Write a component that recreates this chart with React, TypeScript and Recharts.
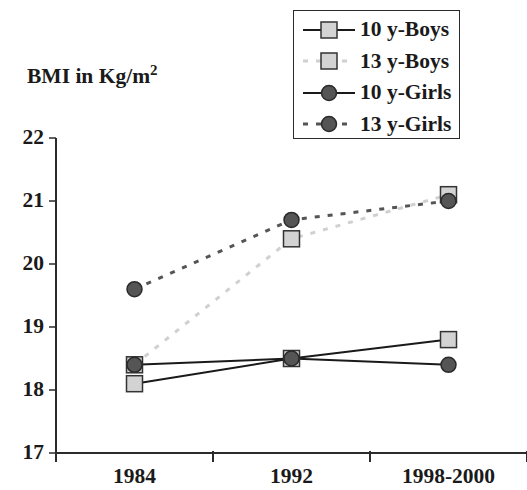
import React from 'react'
import { LineChart, Line, XAxis, YAxis, Legend, Label } from 'recharts'

const categories = ['1984', '1992', '1998-2000']
const boys10 = [18.1, 18.5, 18.8]
const boys13 = [18.4, 20.4, 21.1]
const girls10 = [18.4, 18.5, 18.4]
const girls13 = [19.6, 20.7, 21.0]
const yTicks = [17, 18, 19, 20, 21, 22]

const FONT = '"Liberation Serif", "Times New Roman", serif'
const FS = 21.5
const AXIS = '#2b2b2b'

// x is numeric so tick marks can sit between the categories
const data = categories.map((c, i) => ({
  x: i + 0.5,
  name: c,
  boys10: boys10[i],
  boys13: boys13[i],
  girls10: girls10[i],
  girls13: girls13[i],
}))

const xTicks = [0, 0.5, 1, 1.5, 2, 2.5, 3]

const series = [
  { key: 'boys10', name: '10 y-Boys', stroke: '#1a1a1a', dash: undefined, width: 2, shape: 'square', fill: '#d3d3d3' },
  { key: 'boys13', name: '13 y-Boys', stroke: '#d0d0d0', dash: '5 8', width: 3, shape: 'square', fill: '#d3d3d3' },
  { key: 'girls10', name: '10 y-Girls', stroke: '#1a1a1a', dash: undefined, width: 2, shape: 'circle', fill: '#555555' },
  { key: 'girls13', name: '13 y-Girls', stroke: '#555555', dash: '5 8', width: 3, shape: 'circle', fill: '#555555' },
]

const Marker = ({ cx, cy, shape, fill }: any) => {
  if (cx == null || cy == null) return null
  if (shape === 'square') {
    return <rect x={cx - 8} y={cy - 8} width={16} height={16} fill={fill} stroke="#333" strokeWidth={1.5} />
  }
  return <circle cx={cx} cy={cy} r={7.5} fill={fill} stroke="#2a2a2a" strokeWidth={1.5} />
}

const XTick = ({ x, y, payload }: any) => {
  const v = payload.value
  if (Number.isInteger(v)) {
    return <line x1={x} x2={x} y1={y - 2} y2={y + 9} stroke={AXIS} strokeWidth={2} />
  }
  const label = categories[Math.floor(v)]
  return (
    <text x={x} y={y + 30} textAnchor="middle" fontFamily={FONT} fontWeight="bold" fontSize={FS} fill="#1a1a1a">
      {label}
    </text>
  )
}

const LegendBox = () => (
  <div style={{ border: `1.5px solid ${AXIS}`, width: 167, height: 129, boxSizing: 'border-box', paddingTop: 3, background: '#fff' }}>
    {series.map((s) => (
      <div key={s.key} style={{ display: 'flex', alignItems: 'center', height: 31.5 }}>
        <svg width={62} height={20} style={{ marginLeft: 3 }}>
          <line x1={6} x2={58} y1={10} y2={10} stroke={s.stroke} strokeWidth={s.width} strokeDasharray={s.dash} />
          <Marker cx={32} cy={10} shape={s.shape} fill={s.fill} />
        </svg>
        <span style={{ fontFamily: FONT, fontWeight: 'bold', fontSize: FS, color: '#1a1a1a', marginLeft: 1 }}>{s.name}</span>
      </div>
    ))}
  </div>
)

export default function App() {
  return (
    <div style={{ position: 'absolute', left: 0, top: 0, background: '#fff' }}>
      <LineChart width={527} height={490} data={data} margin={{ top: 138, right: 0, bottom: 0, left: 0 }}>
        <XAxis
          dataKey="x"
          type="number"
          domain={[0, 3]}
          ticks={xTicks}
          interval={0}
          height={37}
          tick={<XTick />}
          tickLine={false}
          tickSize={0}
          tickMargin={0}
          axisLine={{ stroke: AXIS, strokeWidth: 2 }}
        />
        <YAxis
          domain={[17, 22]}
          ticks={yTicks}
          width={56}
          tickSize={7}
          tickMargin={5}
          tickLine={{ stroke: AXIS, strokeWidth: 1.5 }}
          axisLine={{ stroke: AXIS, strokeWidth: 2 }}
          tick={{ fontFamily: FONT, fontWeight: 'bold', fontSize: FS, fill: '#1a1a1a', dy: -2 }}
        >
          <Label
            content={() => (
              <text x={27} y={83} fontFamily={FONT} fontWeight="bold" fontSize={FS} fill="#1a1a1a">
                BMI in Kg/m<tspan dy={-8} fontSize={15}>2</tspan>
              </text>
            )}
          />
        </YAxis>
        <Legend
          layout="horizontal"
          verticalAlign="middle"
          align="center"
          content={<LegendBox />}
          wrapperStyle={{ position: 'absolute', left: 293, top: 10, width: 'auto' }}
        />
        {series.map((s) => (
          <Line
            key={s.key}
            dataKey={s.key}
            name={s.name}
            type="linear"
            stroke={s.stroke}
            strokeWidth={s.width}
            strokeDasharray={s.dash}
            dot={(p: any) => <Marker key={`${s.key}-${p.index}`} cx={p.cx} cy={p.cy} shape={s.shape} fill={s.fill} />}
            activeDot={false}
            isAnimationActive={false}
          />
        ))}
      </LineChart>
    </div>
  )
}
